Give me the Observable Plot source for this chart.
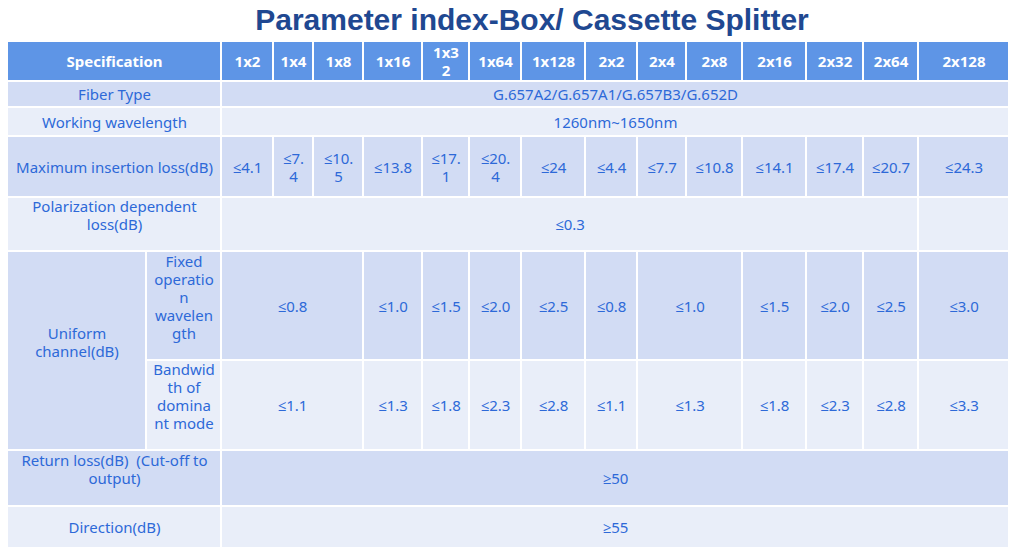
<!DOCTYPE html>
<html>
<head>
<meta charset="utf-8">
<script src="https://cdn.jsdelivr.net/npm/d3@7"></script>
<script src="https://cdn.jsdelivr.net/npm/@observablehq/plot@0.6"></script>
<style>
  html, body { margin: 0; padding: 0; background: #ffffff; }
  #title {
    width: 1018px; height: 41px; box-sizing: border-box;
    padding-left: 46px; text-align: center;
    font: bold 30px "Liberation Sans", Arial, sans-serif; line-height: 40px;
    color: #1f4891; white-space: nowrap;
  }
  #chart svg { display: block; }
</style>
</head>
<body>
<div id="title">Parameter index-Box/ Cassette Splitter</div>
<div id="chart"></div>
<script>
// ---------------- data ----------------
const titleText = "Parameter index-Box/ Cassette Splitter";
const specHeader = "Specification";
const models = ["1x2","1x4","1x8","1x16","1x32","1x64","1x128","2x2","2x4","2x8","2x16","2x32","2x64","2x128"];
const fiberTypeLabel = "Fiber Type";
const fiberTypeValue = "G.657A2/G.657A1/G.657B3/G.652D";
const wavelengthLabel = "Working wavelength";
const wavelengthValue = "1260nm~1650nm";
const insertionLossLabel = "Maximum insertion loss(dB)";
const insertionLoss = ["≤4.1","≤7.4","≤10.5","≤13.8","≤17.1","≤20.4","≤24","≤4.4","≤7.7","≤10.8","≤14.1","≤17.4","≤20.7","≤24.3"];
const pdlLabel = "Polarization dependent loss(dB)";
const pdlValue = "≤0.3";
const uniformLabel = "Uniform channel(dB)";
const fixedLabel = "Fixed operation wavelength";
const bandLabel = "Bandwidth of dominant mode";
// merged groups of models (number of model columns in each group)
const uniformGroups = [3,1,1,1,1,1,2,1,1,1,1];
const uniformFixed = ["≤0.8","≤1.0","≤1.5","≤2.0","≤2.5","≤0.8","≤1.0","≤1.5","≤2.0","≤2.5","≤3.0"];
const uniformBand  = ["≤1.1","≤1.3","≤1.8","≤2.3","≤2.8","≤1.1","≤1.3","≤1.8","≤2.3","≤2.8","≤3.3"];
const returnLossLabel = "Return loss(dB)  (Cut-off to output)";
const returnLossValue = "≥50";
const directionLabel = "Direction(dB)";
const directionValue = "≥55";

// ---------------- layout ----------------
// grid column widths: [uniform label, sub label, ...models]
const colWidths = [139, 75, 52, 40, 50, 59, 47, 52, 64, 52, 49, 56, 64, 57, 55, 91];
// row heights: header, fiber, wavelength, IL, PDL, fixed, band, return, direction
const rowHeights = [40, 26, 29, 61, 54, 109, 90, 56, 42];
// how text wraps inside narrow cells in the reference
const wrapped = {
  "1x32": "1x3\n2",
  "≤7.4": "≤7.\n4", "≤10.5": "≤10.\n5", "≤17.1": "≤17.\n1", "≤20.4": "≤20.\n4",
  "Fixed operation wavelength": "Fixed\noperatio\nn\nwavelen\ngth\n",
  "Bandwidth of dominant mode": "Bandwid\nth of\ndomina\nnt mode\n",
  "Uniform channel(dB)": "Uniform\nchannel(dB)\n",
  "Polarization dependent loss(dB)": "Polarization dependent\nloss(dB)\n",
  "Return loss(dB)  (Cut-off to output)": "Return loss(dB)\u00a0\u00a0(Cut-off to\noutput)\n"
};
const HEAD = "#5e95e6", DARK = "#d2dcf4", LIGHT = "#e9eef9";
const TXT = "#2d69d8";

const xe = [0]; colWidths.forEach(w => xe.push(xe[xe.length - 1] + w));
const ye = [0]; rowHeights.forEach(h => ye.push(ye[ye.length - 1] + h));
const W = xe[xe.length - 1], H = ye[ye.length - 1];

const cells = [];
function cell(c0, c1, r0, r1, text, fill, head = false) {
  cells.push({x1: xe[c0], x2: xe[c1], y1: ye[r0], y2: ye[r1],
              label: wrapped[text] ?? text, fill, head});
}
const M0 = 2, M1 = 2 + models.length;
// header
cell(0, 2, 0, 1, specHeader, HEAD, true);
models.forEach((m, i) => cell(M0 + i, M0 + i + 1, 0, 1, m, HEAD, true));
// fiber type
cell(0, 2, 1, 2, fiberTypeLabel, DARK);
cell(M0, M1, 1, 2, fiberTypeValue, DARK);
// wavelength
cell(0, 2, 2, 3, wavelengthLabel, LIGHT);
cell(M0, M1, 2, 3, wavelengthValue, LIGHT);
// insertion loss
cell(0, 2, 3, 4, insertionLossLabel, DARK);
insertionLoss.forEach((v, i) => cell(M0 + i, M0 + i + 1, 3, 4, v, DARK));
// PDL
cell(0, 2, 4, 5, pdlLabel, LIGHT);
cell(M0, M1 - 1, 4, 5, pdlValue, LIGHT);
cell(M1 - 1, M1, 4, 5, "", LIGHT);
// uniform channel
cell(0, 1, 5, 7, uniformLabel, DARK);
cell(1, 2, 5, 6, fixedLabel, DARK);
cell(1, 2, 6, 7, bandLabel, LIGHT);
let c = M0;
uniformGroups.forEach((n, i) => {
  cell(c, c + n, 5, 6, uniformFixed[i], DARK);
  cell(c, c + n, 6, 7, uniformBand[i], LIGHT);
  c += n;
});
// return loss
cell(0, 2, 7, 8, returnLossLabel, DARK);
cell(M0, M1, 7, 8, returnLossValue, DARK);
// direction
cell(0, 2, 8, 9, directionLabel, LIGHT);
cell(M0, M1, 8, 9, directionValue, LIGHT);

const font = "'Noto Sans', 'Open Sans', sans-serif";
const chart = Plot.plot({
  width: 1018,
  height: 516,
  margin: 0,
  x: {type: "linear", domain: [0, W], range: [7, 7 + W], axis: null},
  y: {type: "linear", domain: [0, H], range: [0, H], axis: null},
  marks: [
    Plot.rect(cells, {x1: "x1", x2: "x2", y1: "y1", y2: "y2", fill: d => d.fill, inset: 1}),
    Plot.text(cells.filter(d => !d.head), {
      x: d => (d.x1 + d.x2) / 2, y: d => (d.y1 + d.y2) / 2, text: "label",
      fill: TXT, fontSize: 15, fontFamily: font, lineAnchor: "middle", lineHeight: 1.2
    }),
    Plot.text(cells.filter(d => d.head), {
      x: d => (d.x1 + d.x2) / 2, y: d => (d.y1 + d.y2) / 2, text: "label",
      fill: "white", fontSize: 15, fontWeight: "bold", fontFamily: font, lineAnchor: "middle", lineHeight: 1.2
    })
  ]
});
document.getElementById("chart").append(chart);
</script>
</body>
</html>
